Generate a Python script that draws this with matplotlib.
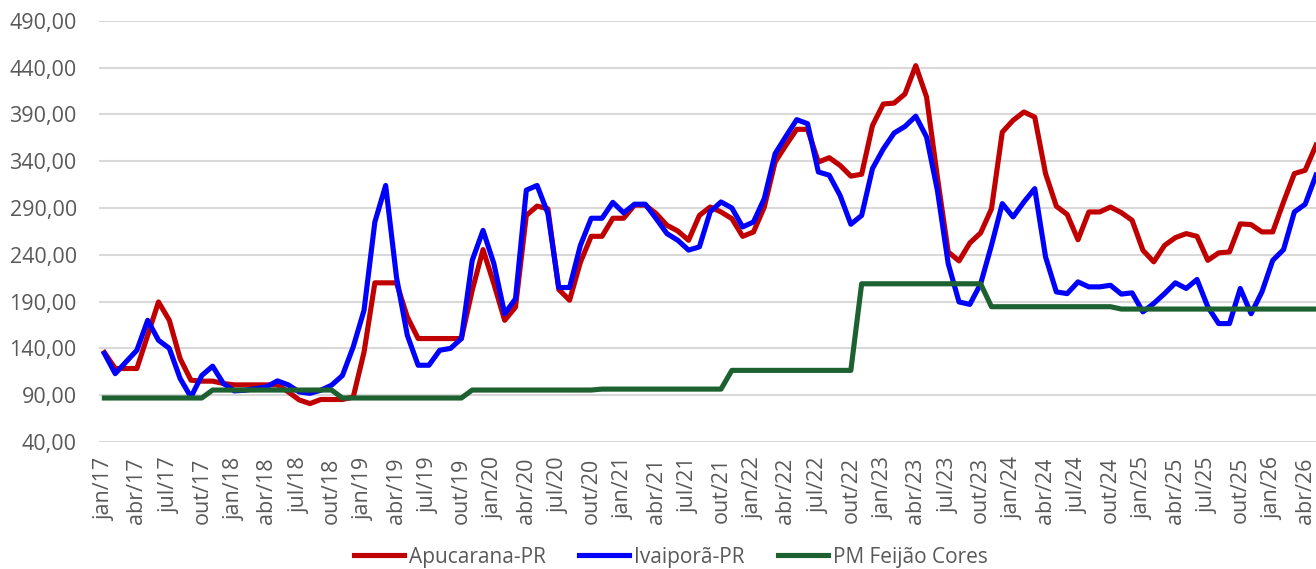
import matplotlib
matplotlib.use("Agg")
import matplotlib.pyplot as plt
from matplotlib.ticker import FuncFormatter

# monthly series, jan/17 .. mai/26
apucarana = [
    135.5, 118.5, 118.5, 118.5, 154, 189.6, 170, 129, 106, 105, 105, 102.5,
    101, 101, 101, 101, 101, 93.5, 85, 81, 85.4, 85.4, 85.4, 88,
    136, 210, 210, 210, 173.6, 150.5, 150.5, 150.5, 150.5, 150.5, 202, 245.5,
    209, 170, 184, 282, 292, 289, 203, 191.4, 232, 259.7, 259.7, 279,
    279, 293, 293, 284, 271.5, 265.4, 255.5, 282, 291, 285.7, 278.6, 259.7,
    264.3, 291, 339, 357, 374, 374, 339, 343.7, 335.5, 324, 326, 378,
    401, 402, 411.7, 442, 408.5, 323, 243, 233.4, 252.6, 263.3, 289, 371,
    383.6, 392.5, 387, 326.7, 291.8, 283, 256, 285.7, 285.7, 291, 285, 276.8,
    244.8, 232.4, 250, 258.3, 262.6, 259.7, 234, 242, 243, 273, 272.2, 264.4,
    264.4, 296.4, 326.7, 330.2, 357,
]
ivaipora = [
    134.5, 113, 125.6, 138, 170, 148.7, 140, 107.8, 88, 111, 121, 102.5,
    94.6, 95.3, 97, 99, 105.3, 101, 93.5, 92, 95.3, 100.7, 111, 141.6,
    180.7, 275, 314, 216, 154, 122, 122, 138, 140, 150.5, 234, 266,
    230.6, 177, 193, 309, 314, 284, 205, 205, 250, 279, 279, 296,
    284.7, 294, 294, 278.6, 262.6, 255.5, 245, 248.4, 286, 296.4, 290, 269.7,
    275, 300, 348, 366.5, 384.3, 380, 328.4, 325, 303.5, 272.6, 282, 332,
    353, 370, 377, 388, 365.8, 308.9, 230.6, 189.6, 187, 209, 250, 294.6,
    280.4, 296.4, 310.6, 237.7, 200.3, 198.5, 211, 205.7, 205.7, 207.4, 198, 199.3,
    179, 188, 198.5, 210, 204, 213.6, 184.3, 166.5, 166.5, 204, 177, 200.3,
    234, 245.5, 285.7, 294, 325,
]
pm_feijao = [
    87, 87, 87, 87, 87, 87, 87, 87, 87, 87, 95.5, 95.5,
    95.5, 95.5, 95.5, 95.5, 95.5, 95.5, 95.5, 95.5, 95.5, 95.5, 87, 87,
    87, 87, 87, 87, 87, 87, 87, 87, 87, 87, 95.5, 95.5,
    95.5, 95.5, 95.5, 95.5, 95.5, 95.5, 95.5, 95.5, 95.5, 95.5, 96.5, 96.5,
    96.5, 96.5, 96.5, 96.5, 96.5, 96.5, 96.5, 96.5, 96.5, 96.5, 116.5, 116.5,
    116.5, 116.5, 116.5, 116.5, 116.5, 116.5, 116.5, 116.5, 116.5, 116.5, 209, 209,
    209, 209, 209, 209, 209, 209, 209, 209, 209, 209, 184.5, 184.5,
    184.5, 184.5, 184.5, 184.5, 184.5, 184.5, 184.5, 184.5, 184.5, 184.5, 182, 182,
    182, 182, 182, 182, 182, 182, 182, 182, 182, 182, 182, 182,
    182, 182, 182, 182, 182,
]

meses = ["jan", "fev", "mar", "abr", "mai", "jun", "jul", "ago", "set", "out", "nov", "dez"]
anos = list(range(17, 27))
labels = [f"{m}/{a}" for a in anos for m in meses][:len(apucarana)]
yticks = [40, 90, 140, 190, 240, 290, 340, 390, 440, 490]

plt.rcParams["font.family"] = ["Open Sans", "DejaVu Sans"]

fig = plt.figure(figsize=(13.16, 5.69), dpi=100)
ax = fig.add_axes([99 / 1316, 1 - 442 / 569, 1217 / 1316, (442 - 20.7) / 569])

x = list(range(len(apucarana)))
lw = 3.7
ax.plot(x, apucarana, color="#C00000", lw=lw, label="Apucarana-PR", solid_joinstyle="round")
ax.plot(x, ivaipora, color="#0000FF", lw=lw, label="Ivaiporã-PR", solid_joinstyle="round")
ax.plot(x, pm_feijao, color="#1E6130", lw=lw, label="PM Feijão Cores", solid_joinstyle="round")

ax.set_ylim(40, 490)
ax.set_yticks(yticks)
ax.yaxis.set_major_formatter(FuncFormatter(lambda v, p: f"{v:.2f}".replace(".", ",")))
ax.set_xlim(-0.5, 112.0)
ax.set_xticks(x[::3])
ax.set_xticklabels(labels[::3], rotation=90)

ax.grid(axis="y", color="#D9D9D9", lw=1.5)
ax.set_axisbelow(True)
for s in ax.spines.values():
    s.set_visible(False)
ax.tick_params(axis="both", length=0, colors="#595959", labelsize=15.5)
ax.tick_params(axis="y", pad=16)
ax.tick_params(axis="x", pad=11)

fig.legend(loc="center", bbox_to_anchor=(671 / 1316, 1 - 557 / 569), ncol=3,
           frameon=False, fontsize=15, handlelength=2.4, handletextpad=0.25,
           columnspacing=1.6, labelcolor="#595959")

fig.savefig("out.png", dpi=100)
